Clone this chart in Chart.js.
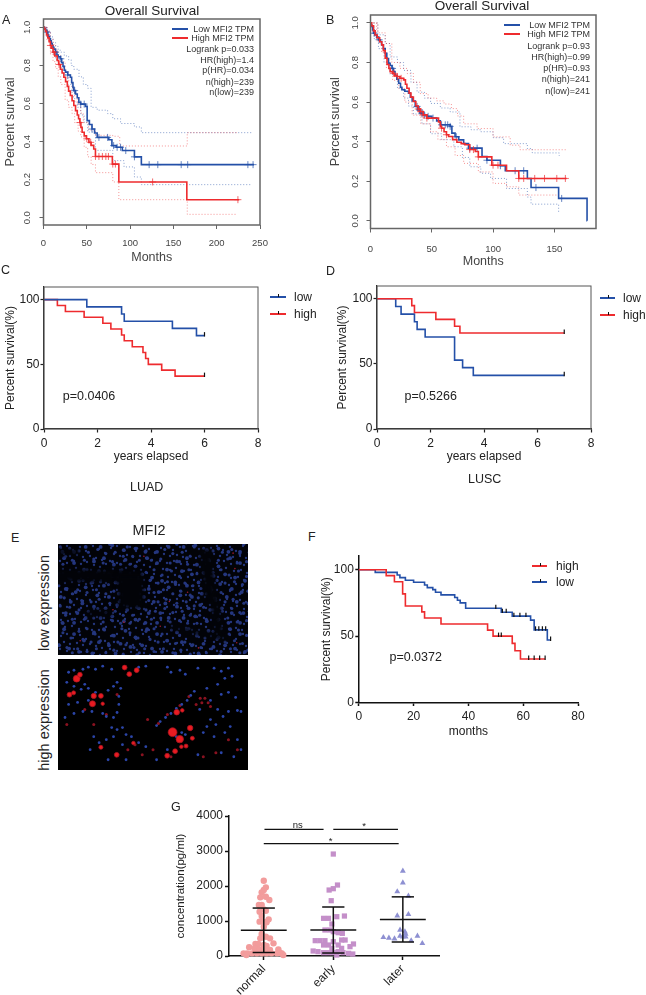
<!DOCTYPE html>
<html>
<head>
<meta charset="utf-8">
<title>MFI2 survival</title>
<script src="https://cdn.jsdelivr.net/npm/chart.js@4/dist/chart.umd.min.js"></script>
<style>
  html, body { margin: 0; padding: 0; background: #fff; }
  #page { position: relative; width: 646px; height: 995px; overflow: hidden; font-family: "Liberation Sans", Arial, sans-serif; color: #222; }
  #page canvas { position: absolute; }
  .txt { position: absolute; white-space: nowrap; line-height: 1; }
  .mark { position: absolute; }
  .micro { position: absolute; left: 58px; width: 190px; height: 111px; overflow: hidden; background: #000; }
  #lowField { background-color: #020308; }
  .hole { position: absolute; background: #020308; filter: blur(2.5px); }
</style>
</head>
<body>
<div id="page">
  <div class="micro" id="lowField" style="top:544px">
    <div class="hole" style="left:-4px;top:25px;width:88px;height:13px"></div>
    <div class="hole" style="left:60px;top:32px;width:26px;height:32px"></div>
    <div class="hole" style="left:144px;top:5px;width:12px;height:50px;transform:rotate(-6deg)"></div>
    <div class="hole" style="left:154px;top:50px;width:9px;height:42px;transform:rotate(-8deg)"></div>
    <div class="hole" style="left:-4px;top:5px;width:26px;height:6px"></div>
    <div class="hole" style="left:110px;top:86px;width:60px;height:5px;transform:rotate(12deg)"></div>
    <div class="hole" style="left:28px;top:66px;width:26px;height:6px"></div>
  </div>
  <div class="micro" style="top:659px"></div>
</div>
<script>
// A: TCGA LUAD
const aXTicks = [0, 50, 100, 150, 200, 250];
const survivalTicks = [0, 0.2, 0.4, 0.6, 0.8, 1];
const aLowMonths = [0, 1, 2.3, 3.5, 5, 6, 7, 8, 9, 10, 11, 12, 13.9, 15.5, 17, 19.6, 21, 22.5, 24, 25.4, 28, 31, 32.5, 34, 35, 37, 39, 40.8, 43, 48.5, 50.4, 53, 56, 59, 62, 75.4, 79, 84, 91, 105, 113, 243];
const aLowSurv = [1, 0.995, 0.985, 0.975, 0.96, 0.95, 0.94, 0.93, 0.915, 0.905, 0.895, 0.885, 0.87, 0.855, 0.845, 0.835, 0.815, 0.795, 0.775, 0.765, 0.75, 0.738, 0.71, 0.685, 0.668, 0.65, 0.63, 0.607, 0.597, 0.585, 0.51, 0.49, 0.466, 0.445, 0.422, 0.41, 0.379, 0.37, 0.353, 0.32, 0.279, 0.279];
const aLowCensor = [4, 14, 20, 28, 36, 43, 47, 56, 64, 74, 81, 85, 89, 95, 105, 122, 132, 159, 166.5, 236, 242];
const aHighMonths = [0, 1.2, 2.3, 3.5, 5, 6.5, 8, 9.5, 11, 13, 15.8, 17.5, 19.5, 21.5, 23.5, 25.5, 27.5, 29, 31, 33, 35, 37, 39, 40.5, 42, 43.2, 44.6, 47, 49.5, 52.4, 55, 58, 60, 79.5, 87, 165.5, 226];
const aHighSurv = [1, 0.99, 0.98, 0.96, 0.945, 0.925, 0.905, 0.89, 0.87, 0.85, 0.826, 0.805, 0.78, 0.76, 0.738, 0.715, 0.69, 0.665, 0.642, 0.615, 0.59, 0.563, 0.54, 0.52, 0.5, 0.475, 0.449, 0.43, 0.415, 0.396, 0.38, 0.361, 0.322, 0.282, 0.188, 0.095, 0.095];
const aHighCensor = [8, 12, 18, 42, 50, 54.5, 60, 64, 68, 72, 75, 80, 83, 126, 224.5];
const aLowUpMonths = [0, 4, 8, 11, 14, 17, 20, 24, 29, 32, 35, 41, 46, 51, 55, 62, 74, 80, 89, 105, 113, 242];
const aLowUp = [1, 0.98, 0.95, 0.92, 0.9, 0.88, 0.87, 0.85, 0.83, 0.8, 0.78, 0.74, 0.7, 0.68, 0.58, 0.565, 0.547, 0.52, 0.495, 0.477, 0.447, 0.447];
const aLowDnMonths = [0, 4, 8, 11, 14, 17, 20, 24, 28, 33, 36, 39, 43, 47, 51, 60, 80, 93, 105, 113, 240];
const aLowDn = [1, 0.95, 0.89, 0.86, 0.83, 0.81, 0.79, 0.75, 0.7, 0.635, 0.61, 0.58, 0.54, 0.5, 0.45, 0.354, 0.3, 0.267, 0.214, 0.174, 0.174];
const aHighUpMonths = [0, 4, 8, 11, 14, 17, 20, 25, 29, 33, 36, 39, 43, 46, 52, 60, 80, 88, 166, 224];
const aHighUp = [1, 0.98, 0.94, 0.91, 0.88, 0.85, 0.82, 0.767, 0.72, 0.68, 0.64, 0.6, 0.55, 0.5, 0.46, 0.433, 0.428, 0.377, 0.447, 0.447];
const aHighDnMonths = [0, 4, 8, 11, 14, 17, 20, 25, 29, 33, 36, 40, 43, 47, 51, 55, 60, 80, 87, 166, 223];
const aHighDn = [1, 0.93, 0.86, 0.82, 0.784, 0.74, 0.7, 0.618, 0.58, 0.547, 0.5, 0.455, 0.425, 0.37, 0.32, 0.28, 0.237, 0.188, 0.095, 0.018, 0.018];

// B: TCGA LUSC
const bXTicks = [0, 50, 100, 150];
const bLowMonths = [0, 0.5, 1, 1.7, 2.4, 3.5, 5, 6.5, 7.9, 9, 10.5, 12, 13.3, 14.7, 16, 17.5, 18.8, 20, 21.5, 23, 24.5, 25.6, 28, 31, 32.5, 34, 36.5, 38.5, 40.6, 43, 46, 50, 54, 57, 65, 66.4, 69, 72, 76, 80, 91, 95, 106, 110, 128, 131, 153.5, 176.7, 176.8];
const bLowSurv = [1, 0.99, 0.982, 0.965, 0.948, 0.94, 0.928, 0.915, 0.906, 0.89, 0.87, 0.847, 0.82, 0.796, 0.785, 0.77, 0.754, 0.735, 0.715, 0.695, 0.675, 0.662, 0.655, 0.645, 0.625, 0.605, 0.578, 0.56, 0.544, 0.535, 0.528, 0.519, 0.505, 0.485, 0.477, 0.443, 0.425, 0.409, 0.39, 0.367, 0.325, 0.306, 0.278, 0.253, 0.214, 0.168, 0.113, 0, 0];
const bLowCensor = [3, 7, 18, 38, 40, 42, 44, 47, 51, 58, 61, 63, 65, 70, 81, 87, 95, 106, 118, 125, 135, 156];
const bHighMonths = [0, 1, 2.5, 3.8, 5.5, 7.5, 9.2, 10.5, 12, 13.5, 15, 16, 18, 19.5, 21.5, 24, 27, 28.5, 29.7, 31.5, 33, 35, 37, 39, 40.6, 43, 46, 55.5, 57, 58, 60, 62, 63.7, 67, 70.5, 74, 77, 81, 85.5, 88, 99, 111, 121, 160];
const bHighSurv = [1, 0.985, 0.96, 0.939, 0.925, 0.905, 0.889, 0.86, 0.822, 0.79, 0.77, 0.754, 0.745, 0.735, 0.729, 0.72, 0.712, 0.69, 0.67, 0.645, 0.625, 0.603, 0.58, 0.565, 0.552, 0.535, 0.519, 0.5, 0.475, 0.468, 0.45, 0.435, 0.426, 0.41, 0.397, 0.39, 0.384, 0.36, 0.35, 0.323, 0.281, 0.253, 0.214, 0.214];
const bHighCensor = [19, 22, 25, 39, 41, 43, 46, 58, 62, 81, 84, 88, 100, 104, 121, 125, 134, 142, 152, 159];
const bLowUpMonths = [0, 6, 12, 16, 22, 27, 33, 38, 44, 49, 57, 65, 73, 82, 90, 100, 108.6, 128, 132, 154];
const bLowUp = [1, 0.94, 0.896, 0.828, 0.8, 0.76, 0.7, 0.65, 0.62, 0.593, 0.57, 0.55, 0.475, 0.46, 0.45, 0.42, 0.39, 0.365, 0.343, 0.328];
const bLowDnMonths = [0, 3, 6.5, 11, 16, 22, 27, 31, 35, 42, 49, 58, 68, 75, 81, 90, 98, 111, 128, 131, 153.5];
const bLowDn = [0.98, 0.92, 0.87, 0.8, 0.74, 0.67, 0.62, 0.58, 0.54, 0.49, 0.44, 0.41, 0.374, 0.32, 0.273, 0.24, 0.214, 0.163, 0.12, 0.084, 0.037];
const bHighUpMonths = [0, 6, 12, 17.4, 24, 30, 35, 40.6, 47, 54, 60, 66, 71, 76, 87, 100, 114, 122, 160];
const bHighUp = [1, 0.95, 0.896, 0.8, 0.77, 0.744, 0.7, 0.643, 0.62, 0.606, 0.59, 0.567, 0.53, 0.49, 0.466, 0.424, 0.382, 0.359, 0.359];
const bHighDnMonths = [0, 5, 9, 13, 18, 23, 28, 34, 41, 49, 55, 62, 69, 76, 88, 100, 111, 121, 152];
const bHighDn = [1, 0.91, 0.85, 0.77, 0.71, 0.668, 0.6, 0.534, 0.49, 0.45, 0.41, 0.374, 0.33, 0.29, 0.247, 0.189, 0.172, 0.13, 0.13];

// C: LUAD cohort
const yearTicks = [0, 2, 4, 6, 8];
const percentTicks = [0, 50, 100];
const cLowYears = [0, 1.6, 2.9, 3.0, 4.8, 5.7, 6];
const cLowPct = [100, 94.4, 88.9, 83.3, 77.8, 72.2, 72.2];
const cHighYears = [0, 0.5, 0.8, 1.5, 2.2, 2.5, 2.9, 3.0, 3.3, 3.7, 3.8, 3.9, 4.4, 4.9, 6];
const cHighPct = [100, 95.5, 90.9, 86.4, 81.8, 77.3, 72.7, 68.2, 63.6, 59.1, 54.5, 50, 45.5, 40.9, 40.9];
const cCensorYears = [6];

// D: LUSC cohort
const dHighYears = [0, 1.3, 1.4, 2.2, 2.9, 3.1, 7];
const dHighPct = [100, 94.7, 89.5, 84.2, 78.9, 73.7, 73.7];
const dLowYears = [0, 0.7, 0.9, 1.4, 1.5, 1.8, 2.9, 3.2, 3.6, 7];
const dLowPct = [100, 94.1, 88.2, 82.4, 76.5, 70.6, 52.9, 47.1, 41.2, 41.2];
const dCensorYears = [7];

// F: own cohort
const fXTicks = [0, 20, 40, 60, 80];
const fHighMonths = [0, 10, 13, 16, 17, 23, 24, 30, 47, 49, 56, 57, 59, 68];
const fHighPct = [100, 95.5, 90.9, 81.8, 72.7, 68.2, 63.6, 59.1, 54.5, 50, 44.5, 39, 32.7, 32.7];
const fHighCensor = [51, 52, 62, 64, 66, 68];
const fLowMonths = [0, 6, 14, 15, 17, 20, 24, 25, 27, 28, 30, 35, 36, 37, 39, 52, 56, 62.7, 64, 68.8, 70];
const fLowPct = [100, 98, 96, 94, 92, 90.5, 88.5, 86.5, 85, 83, 81, 79, 77, 75, 71, 68, 65, 62, 54.7, 47, 47];
const fLowCensor = [50, 52.4, 53.8, 56.6, 58.8, 61, 64.5, 65.7, 67, 68.2, 70];

// G: scatter
const groups = ['normal', 'early', 'later'];
const concTicks = [0, 1000, 2000, 3000, 4000];
const normalX = [0, 0.03, 0, -0.03, -0.05, 0.03, 0.08, -0.03, -0.07, 0, 0.03, -0.06, -0.03, 0.07, 0.04, -0.06, 0, 0, -0.03, 0.03, 0.09, -0.05, 0.14, -0.12, -0.08, 0, 0.04, -0.21, -0.13, -0.06, 0, 0.09, 0.21, -0.29, -0.24, -0.17, -0.1, -0.03, 0.04, 0.11, 0.19, 0.26, 0.28, -0.25, 0.23];
const normalConc = [2152, 1961, 1885, 1818, 1676, 1695, 1600, 1457, 1457, 1333, 1295, 1266, 1142, 1047, 962, 981, 981, 838, 628, 552, 505, 505, 362, 343, 343, 314, 286, 248, 219, 190, 190, 171, 190, 76, 76, 76, 76, 76, 76, 76, 76, 76, 29, 29, 95];
const earlyX = [1, 1.06, 1, 0.94, 0.97, 0.93, 0.86, 1.05, 1.16, 0.98, 0.88, 0.95, 1, 1.07, 1.13, 0.74, 0.81, 0.88, 1.12, 1.17, 1, 0.93, 0.86, 1.07, 1.29, 1.24, 0.98, 1.12, 0.71, 0.78, 0.86, 0.93, 1, 1.07, 1.14, 1.22, 1.28, 1.05];
const earlyConc = [2913, 2028, 1923, 1885, 1580, 1076, 1076, 1123, 1142, 914, 743, 743, 695, 666, 647, 438, 438, 438, 457, 457, 409, 314, 314, 314, 343, 267, 219, 219, 143, 124, 95, 95, 95, 124, 95, 76, 57, 29];
const laterX = [2, 2, 1.92, 2.08, 1.92, 2.08, 1.96, 2.03, 1.72, 1.8, 1.88, 1.96, 2.04, 2, 2.21, 2.12, 2.28, 2.04];
const laterConc = [2428, 2094, 1838, 1714, 1152, 1190, 743, 695, 533, 514, 495, 571, 628, 552, 571, 438, 362, 552];
const groupMean = [735, 740, 1045];
const groupTop = [1370, 1400, 1690];
const groupBottom = [100, 85, 400];
const bracketFrom = [0.01, 1.0, 0];
const bracketTo = [0.86, 1.93, 1.94];
const bracketConc = [3620, 3620, 3210];

// E: micrographs, positions as % of the field
const redCellX = [7.5, 9.3, 3.5, 5.8, 16.3, 17, 21, 22, 34.2, 36.8, 40.9, 63.2, 66.3, 60.9, 64.9, 70.7, 71.9, 68.4, 65.8, 62.3, 57.9, 21, 29.8, 39.1];
const redCellY = [14.4, 10.5, 30.3, 28.5, 39.3, 31.5, 31.5, 39.3, 3.3, 9.9, 6, 47.7, 45.9, 67.6, 74.5, 63.4, 73.6, 81.4, 82, 86.5, 91, 82.6, 90.1, 78.4];
const redCellR = [3.4, 2.4, 2.4, 2, 3, 2.6, 2.4, 1.7, 2.4, 2.4, 2.4, 2.8, 1.8, 4.4, 3.7, 2.7, 2, 2, 1.8, 2.4, 2.4, 2, 2.4, 1.8];
const dimCellX = [76.3, 78.9, 80.7, 77.2, 74, 82, 53, 58, 65, 70, 40, 50, 60, 78, 85, 12, 24, 30, 2, 17, 36, 44, 92, 97, 47];
const dimCellY = [33.9, 33.9, 38.4, 38.4, 40, 42, 59, 50, 41, 32, 80, 85, 92, 92, 88, 45, 50, 30, 60, 60, 85, 90, 75, 85, 55];
const nucleusX = [52, 54, 57, 60, 63, 66, 69, 71, 73, 1, 6, 11, 16, 22, 24, 28, 30, 31, 31, 32, 30, 28, 25, 14, 18, 22, 27, 42, 46, 58, 60, 65, 68, 75, 84, 88, 92, 94, 90, 86, 80, 3, 6, 11, 2, 6, 10, 12, 3, 8, 14, 18, 14, 27, 30, 33, 35, 28, 24, 20, 17, 38, 42, 46, 33, 15, 25, 35, 52, 58, 63, 62, 66, 68, 76, 82, 86, 89, 92, 97, 99, 85, 80, 78, 84, 90, 93, 97, 88, 75, 95, 99, 82, 88, 92, 96];
const nucleusY = [61, 57, 53, 49, 44, 40, 36, 31, 27, 53, 49, 47, 47, 49, 52, 53, 48, 40, 32, 24, 18, 22, 26, 3, 5, 2, 5, 3, 2, 3, 8, 6, 10, 4, 4, 7, 4, 12, 14, 20, 24, 8, 6, 5, 18, 22, 25, 20, 40, 38, 24, 28, 36, 63, 65, 63, 70, 72, 75, 78, 72, 72, 78, 82, 80, 85, 95, 95, 95, 85, 72, 66, 68, 70, 45, 55, 45, 52, 47, 46, 47, 60, 62, 68, 72, 68, 62, 75, 88, 90, 92, 85, 36, 30, 28, 33];
const lowSpeckX = [34, 54, 59, 69, 95, 94, 96, 10, 45, 75, 28];
const lowSpeckY = [72, 76, 52, 43, 20, 5, 92, 90, 8, 97, 60];

const BLUE = '#2450a8';
const RED = '#ee2b2e';
const FONT = '"Liberation Sans", Arial, sans-serif';
const page = document.getElementById('page');

Chart.defaults.font.family = FONT;
Chart.defaults.animation = false;
Chart.defaults.responsive = false;
Chart.defaults.plugins.legend.display = false;
Chart.defaults.plugins.tooltip.enabled = false;

// nuclei texture behind the low expression field
const tileDots = '3,4 9,2 15,6 22,3 28,7 35,2 41,5 47,9 6,10 12,12 19,11 25,13 32,12 38,14 44,16 2,17 9,19 16,17 23,20 29,18 36,21 42,23 48,20 5,25 12,26 18,24 26,27 33,26 39,29 46,30 3,32 10,33 17,31 23,34 30,33 36,36 43,36 7,39 14,38 21,41 28,40 34,42 41,42 48,39';
const tileSvg = '<svg xmlns="http://www.w3.org/2000/svg" width="50" height="44">' +
  tileDots.split(' ').map(p => {
    const xy = p.split(',');
    return '<circle cx="' + xy[0] + '" cy="' + xy[1] + '" r="1.15" fill="#24367f"/>';
  }).join('') + '</svg>';
const tileUrl = 'url("data:image/svg+xml,' + encodeURIComponent(tileSvg) + '")';
const lowField = document.getElementById('lowField');
lowField.style.backgroundImage = [tileUrl, tileUrl, tileUrl].join(',');
lowField.style.backgroundSize = '50px 44px, 67px 59px, 83px 71px';
lowField.style.backgroundPosition = '0 0, 17px 23px, 31px 11px';

function zip(xs, ys) {
  return xs.map((x, i) => ({ x: x, y: ys[i] }));
}

// y of a step curve at x, used to sit the censor marks on the curve
function stepAt(xs, ys, x) {
  let y = ys[0];
  xs.forEach((v, i) => { if (v <= x) y = ys[i]; });
  return y;
}

function stepLine(xs, ys, color, width) {
  return { data: zip(xs, ys), stepped: true, borderColor: color, borderWidth: width || 1.6, pointRadius: 0, fill: false };
}

function dotted(xs, ys, color) {
  return { data: zip(xs, ys), stepped: true, borderColor: color, borderWidth: 1, borderDash: [1, 2], pointRadius: 0, fill: false };
}

function crosses(xs, ys, at, color) {
  return { data: at.map(x => ({ x: x, y: stepAt(xs, ys, x) })), showLine: false, pointStyle: 'cross', pointRadius: 3.5, pointBorderWidth: 1, pointBorderColor: color };
}

function ticks(xs, ys, at) {
  return { data: at.map(x => ({ x: x, y: stepAt(xs, ys, x) + 1 })), showLine: false, pointStyle: 'line', pointRotation: 90, pointRadius: 2.2, pointBorderWidth: 1.2, pointBorderColor: '#111' };
}

const boxPlugin = {
  id: 'boxPlugin',
  afterDraw(chart, args, opts) {
    if (!opts.color) return;
    const a = chart.chartArea, c = chart.ctx;
    c.save();
    c.strokeStyle = opts.color;
    c.lineWidth = opts.width;
    c.strokeRect(a.left, a.top, a.right - a.left, a.bottom - a.top);
    c.restore();
  }
};

function panel(id, cfg) {
  const padTop = 14, padRight = 22;
  const canvas = document.createElement('canvas');
  canvas.id = id;
  canvas.width = Math.round(cfg.yW + cfg.r - cfg.l + padRight);
  canvas.height = Math.round(padTop + cfg.b - cfg.t + cfg.xH);
  canvas.style.left = (cfg.l - cfg.yW) + 'px';
  canvas.style.top = (cfg.t - padTop) + 'px';
  page.appendChild(canvas);
  const tickColor = cfg.tickColor || '#222';
  return new Chart(canvas.getContext('2d'), {
    type: 'line',
    data: { datasets: cfg.datasets },
    plugins: [boxPlugin],
    options: {
      clip: false,
      layout: { padding: { top: padTop, right: padRight, left: 0, bottom: 0 } },
      plugins: { boxPlugin: { color: cfg.box, width: cfg.boxWidth || 1 } },
      scales: {
        x: {
          type: 'linear', min: cfg.xMin, max: cfg.xMax,
          afterBuildTicks: s => { s.ticks = cfg.xTicks.map(v => ({ value: v })); },
          afterFit: s => { s.height = cfg.xH; },
          border: { display: !!cfg.axis, color: cfg.axis, width: cfg.axisWidth || 1 },
          grid: { drawOnChartArea: false, tickLength: cfg.tickLen || 5, tickColor: cfg.axis || cfg.box, tickWidth: cfg.axisWidth || 1 },
          title: { display: !!cfg.xTitle, text: cfg.xTitle, font: { size: cfg.titleSize }, color: tickColor, padding: 0 },
          ticks: {
            autoSkip: false, font: { size: cfg.tickSize }, color: tickColor, padding: cfg.xPad || 2,
            minRotation: cfg.xRotate || 0, maxRotation: cfg.xRotate || 0,
            callback: cfg.xFormat || (v => v)
          }
        },
        y: {
          min: cfg.yMin, max: cfg.yMax,
          afterBuildTicks: s => { s.ticks = cfg.yTicks.map(v => ({ value: v })); },
          afterFit: s => { s.width = cfg.yW; },
          border: { display: !!cfg.axis, color: cfg.axis, width: cfg.axisWidth || 1 },
          grid: { drawOnChartArea: false, tickLength: cfg.tickLen || 5, tickColor: cfg.axis || cfg.box, tickWidth: cfg.axisWidth || 1 },
          title: { display: true, text: cfg.yTitle, font: { size: cfg.yTitleSize || cfg.titleSize }, color: tickColor, padding: 0 },
          ticks: {
            autoSkip: false, font: { size: cfg.tickSize }, color: tickColor, padding: cfg.yPad || 2,
            minRotation: cfg.yRotate || 0, maxRotation: cfg.yRotate || 0,
            crossAlign: cfg.yRotate ? 'center' : 'near',
            callback: cfg.yFormat || (v => v)
          }
        }
      }
    }
  });
}

function label(text, x, y, size, opts) {
  opts = opts || {};
  const el = document.createElement('span');
  el.className = 'txt';
  el.textContent = text;
  el.style.fontSize = size + 'px';
  el.style.top = y + 'px';
  el.style.color = opts.color || '#222';
  el.style.left = x + 'px';
  const shift = opts.align === 'right' ? '-100%' : opts.align === 'left' ? '0' : '-50%';
  el.style.transform = 'translate(' + shift + ',-50%)' + (opts.rotate ? ' rotate(' + opts.rotate + 'deg)' : '');
  page.appendChild(el);
}

function key(x1, x2, y, color, tick) {
  const line = document.createElement('div');
  line.className = 'mark';
  line.style.cssText = 'left:' + x1 + 'px;top:' + (y - 1) + 'px;width:' + (x2 - x1) + 'px;height:1.6px;background:' + color;
  page.appendChild(line);
  if (tick) {
    const t = document.createElement('div');
    t.className = 'mark';
    t.style.cssText = 'left:' + ((x1 + x2) / 2) + 'px;top:' + (y - 3) + 'px;width:1px;height:3px;background:#111';
    page.appendChild(t);
  }
}

const kmFixed = v => v.toFixed(1);

// A
panel('chartA', {
  l: 43, t: 19, r: 259.5, b: 224.5, yW: 40.5, xH: 40,
  xMin: 0, xMax: 250, yMin: -0.038, yMax: 1.044, xTicks: aXTicks, yTicks: survivalTicks,
  xTitle: 'Months', yTitle: 'Percent survival', titleSize: 12.5, tickSize: 9.5, yRotate: 90, yPad: 6, xPad: 9,
  yFormat: kmFixed, box: '#666', boxWidth: 1.5, tickColor: '#444', tickLen: 4,
  datasets: [
    stepLine(aHighMonths, aHighSurv, RED),
    crosses(aHighMonths, aHighSurv, aHighCensor, 'rgba(238,43,46,0.7)'),
    stepLine(aLowMonths, aLowSurv, BLUE),
    crosses(aLowMonths, aLowSurv, aLowCensor, 'rgba(36,80,168,0.7)'),
    dotted(aHighUpMonths, aHighUp, 'rgba(238,43,46,0.5)'),
    dotted(aHighDnMonths, aHighDn, 'rgba(238,43,46,0.5)'),
    dotted(aLowUpMonths, aLowUp, 'rgba(36,80,168,0.55)'),
    dotted(aLowDnMonths, aLowDn, 'rgba(36,80,168,0.55)')
  ]
});

// B
panel('chartB', {
  l: 370, t: 14.7, r: 595.3, b: 228, yW: 42.5, xH: 40.5,
  xMin: 0, xMax: 184, yMin: -0.039, yMax: 1.04, xTicks: bXTicks, yTicks: survivalTicks,
  xTitle: 'Months', yTitle: 'Percent survival', titleSize: 12.5, tickSize: 9.5, yRotate: 90, yPad: 5, xPad: 11,
  yFormat: kmFixed, box: '#666', boxWidth: 1.5, tickColor: '#444', tickLen: 4,
  datasets: [
    stepLine(bHighMonths, bHighSurv, RED),
    crosses(bHighMonths, bHighSurv, bHighCensor, 'rgba(238,43,46,0.7)'),
    stepLine(bLowMonths, bLowSurv, BLUE),
    crosses(bLowMonths, bLowSurv, bLowCensor, 'rgba(36,80,168,0.7)'),
    dotted(bHighUpMonths, bHighUp, 'rgba(238,43,46,0.5)'),
    dotted(bHighDnMonths, bHighDn, 'rgba(238,43,46,0.5)'),
    dotted(bLowUpMonths, bLowUp, 'rgba(36,80,168,0.55)'),
    dotted(bLowDnMonths, bLowDn, 'rgba(36,80,168,0.55)')
  ]
});

// C
panel('chartC', {
  l: 44, t: 286.7, r: 258.3, b: 429, yW: 41, xH: 35,
  xMin: 0, xMax: 8, yMin: 0, yMax: 109.8, xTicks: yearTicks, yTicks: percentTicks,
  xTitle: 'years elapsed', yTitle: 'Percent survival(%)', titleSize: 12, tickSize: 12,
  axis: '#222', axisWidth: 1.2, box: '#555', boxWidth: 1, tickLen: 3.5, yPad: 1, xPad: 4,
  datasets: [
    ticks(cLowYears, cLowPct, cCensorYears),
    ticks(cHighYears, cHighPct, cCensorYears),
    stepLine(cLowYears, cLowPct, BLUE),
    stepLine(cHighYears, cHighPct, RED)
  ]
});

// D
panel('chartD', {
  l: 377, t: 285.7, r: 591.3, b: 428.3, yW: 42, xH: 35,
  xMin: 0, xMax: 8, yMin: 0, yMax: 109.8, xTicks: yearTicks, yTicks: percentTicks,
  xTitle: 'years elapsed', yTitle: 'Percent survival(%)', titleSize: 12, tickSize: 12,
  axis: '#222', axisWidth: 1.2, box: '#555', boxWidth: 1, tickLen: 3.5, yPad: 1, xPad: 4,
  datasets: [
    ticks(dLowYears, dLowPct, dCensorYears),
    ticks(dHighYears, dHighPct, dCensorYears),
    stepLine(dHighYears, dHighPct, RED),
    stepLine(dLowYears, dLowPct, BLUE)
  ]
});

// F
panel('chartF', {
  l: 358.3, t: 556, r: 577.3, b: 702.7, yW: 39.8, xH: 36.5,
  xMin: 0, xMax: 80, yMin: 0, yMax: 110.3, xTicks: fXTicks, yTicks: percentTicks,
  xTitle: 'months', yTitle: 'Percent survival(%)', titleSize: 12, tickSize: 12,
  axis: '#111', axisWidth: 1.5, tickLen: 3.5, yPad: 1.5, xPad: 3.5,
  datasets: [
    ticks(fHighMonths, fHighPct, fHighCensor),
    ticks(fLowMonths, fLowPct, fLowCensor),
    stepLine(fHighMonths, fHighPct, RED),
    stepLine(fLowMonths, fLowPct, BLUE)
  ]
});

// G
function errorSegments() {
  const out = [];
  groups.forEach((g, i) => {
    const seg = (x1, y1, x2, y2) => out.push({
      data: [{ x: x1, y: y1 }, { x: x2, y: y2 }], borderColor: '#111', borderWidth: 1.5, pointRadius: 0
    });
    seg(i - 0.33, groupMean[i], i + 0.33, groupMean[i]);
    seg(i, groupBottom[i], i, groupTop[i]);
    seg(i - 0.16, groupTop[i], i + 0.16, groupTop[i]);
    seg(i - 0.16, groupBottom[i], i + 0.16, groupBottom[i]);
  });
  bracketConc.forEach((c, i) => out.push({
    data: [{ x: bracketFrom[i], y: c }, { x: bracketTo[i], y: c }], borderColor: '#111', borderWidth: 1.2, pointRadius: 0
  }));
  return out;
}

function dots(xs, ys, style, radius, color) {
  return { data: zip(xs, ys), showLine: false, pointStyle: style, pointRadius: radius, pointBackgroundColor: color, pointBorderColor: color, pointBorderWidth: 0 };
}

panel('chartG', {
  l: 229, t: 816, r: 439, b: 956, yW: 55, xH: 39,
  xMin: -0.5, xMax: 2.52, yMin: 0, yMax: 4000, xTicks: [0, 1, 2], yTicks: concTicks,
  yTitle: 'concentration(pg/ml)', titleSize: 11.5, tickSize: 12, xRotate: 45, tickLen: 4,
  axis: '#111', axisWidth: 1.5, xFormat: v => groups[v],
  datasets: errorSegments().concat([
    dots(normalX, normalConc, 'circle', 3.2, '#f29c9c'),
    dots(earlyX, earlyConc, 'rect', 3.7, '#c48fc9'),
    dots(laterX, laterConc, 'triangle', 3.4, '#8e90d2')
  ])
});

// E fields
function field(id, top, sets) {
  const canvas = document.createElement('canvas');
  canvas.id = id;
  canvas.width = 190;
  canvas.height = 111;
  canvas.style.left = '58px';
  canvas.style.top = top + 'px';
  canvas.style.filter = 'blur(0.5px)';
  page.appendChild(canvas);
  new Chart(canvas.getContext('2d'), {
    type: 'bubble',
    data: { datasets: sets },
    options: {
      layout: { padding: 0 },
      scales: {
        x: { display: false, min: 0, max: 100 },
        y: { display: false, min: 0, max: 100, reverse: true }
      }
    }
  });
}

function cells(xs, ys, rs, color, border) {
  return {
    data: xs.map((x, i) => ({ x: x, y: ys[i], r: Array.isArray(rs) ? rs[i] : rs })),
    backgroundColor: color, borderColor: border || color, borderWidth: border ? 0.8 : 0
  };
}

field('fieldLow', 544, [cells(lowSpeckX, lowSpeckY, 0.8, '#a01a2a')]);
field('fieldHigh', 659, [
  cells(redCellX, redCellY, redCellR, '#e81c22', '#a81420'),
  cells(nucleusX, nucleusY, 1.4, '#2b45a8'),
  cells(dimCellX, dimCellY, 1.5, '#8a1220')
]);

// texts
label('A', 2, 20, 12.5, { align: 'left' });
label('B', 326, 20, 12.5, { align: 'left' });
label('C', 1, 270, 12.5, { align: 'left' });
label('D', 326, 271, 12.5, { align: 'left' });
label('E', 11, 538, 12.5, { align: 'left' });
label('F', 308, 537, 12.5, { align: 'left' });
label('G', 171, 807, 12.5, { align: 'left' });

label('Overall Survival', 152, 11, 13.5);
label('Overall Survival', 482, 6, 13.5);

key(172, 188, 29, BLUE);
key(172, 188, 38, RED);
['Low MFI2 TPM', 'High MFI2 TPM', 'Logrank p=0.033', 'HR(high)=1.4', 'p(HR)=0.034', 'n(high)=239', 'n(low)=239'].forEach((t, i) => {
  label(t, 254, [29, 38, 49, 60, 70, 82, 92][i], 9, { align: 'right', color: '#333' });
});
key(504, 520, 25, BLUE);
key(504, 520, 34, RED);
['Low MFI2 TPM', 'High MFI2 TPM', 'Logrank p=0.93', 'HR(high)=0.99', 'p(HR)=0.93', 'n(high)=241', 'n(low)=241'].forEach((t, i) => {
  label(t, 590, [25, 34, 46, 57, 68, 79, 91][i], 9, { align: 'right', color: '#333' });
});

key(270, 286, 297, BLUE, true);
key(270, 286, 314, RED, true);
label('low', 294, 297, 12, { align: 'left' });
label('high', 294, 314, 12, { align: 'left' });
label('p=0.0406', 89, 396, 12.5);
label('LUAD', 146.7, 487.3, 12.5);

key(600, 615, 298, BLUE, true);
key(600, 615, 315, RED, true);
label('low', 623, 298, 12, { align: 'left' });
label('high', 623, 315, 12, { align: 'left' });
label('p=0.5266', 430.7, 396, 12.5);
label('LUSC', 484.7, 479.3, 12.5);

label('MFI2', 149, 530, 14.4);
label('low expression', 44, 603, 14.5, { rotate: -90 });
label('high expression', 44, 720, 14.5, { rotate: -90 });

key(532, 547, 566, RED, true);
key(532, 547, 582, BLUE, true);
label('high', 556, 566, 12, { align: 'left' });
label('low', 556, 582, 12, { align: 'left' });
label('p=0.0372', 415.7, 656.7, 12.5);

label('ns', 297.7, 825, 9.5);
label('*', 364, 826, 9.5);
label('*', 330.7, 841, 9.5);
</script>
</body>
</html>
